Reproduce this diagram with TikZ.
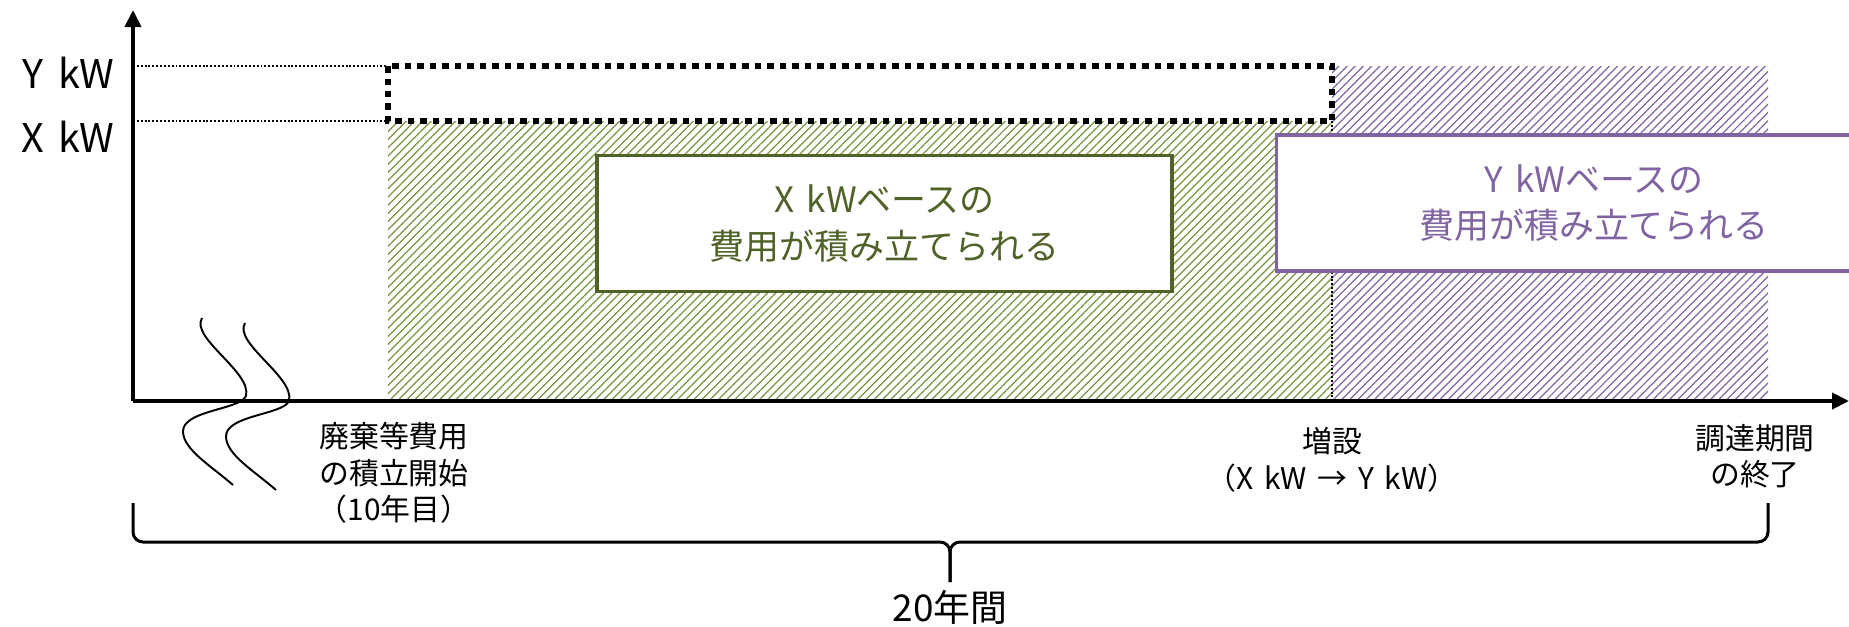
\documentclass[tikz,border=0pt]{standalone}
\usepackage{fontspec}
\setmainfont{Noto Sans CJK JP}[WordSpace=1.6]
\usetikzlibrary{arrows.meta, positioning, patterns.meta}
\definecolor{kwgreen}{RGB}{79, 98, 40}
\definecolor{hatchgreen}{RGB}{119, 147, 60}
\definecolor{kwpurple}{RGB}{128, 100, 162}
\tikzset{
  axisline/.style={line width=0.08cm, -{Triangle[width=0.32cm,length=0.34cm]}},
  guideline/.style={line width=1.1pt, dash pattern=on 1.1pt off 1.1pt},
  squaredots/.style={line width=0.13cm, dash pattern=on 0.13cm off 0.12cm},
  hatch/.style={pattern={Lines[angle=45, distance=3.3pt, line width=0.7pt]}, pattern color=#1},
  costbox/.style={draw=#1, text=#1, fill=white, line width=0.075cm, align=center,
    minimum height=2.72cm, font=\fontsize{19.9pt}{26.4pt}\selectfont},
  ticklabel/.style={align=center, inner sep=0pt, font=\fontsize{17pt}{20.8pt}\selectfont},
  kwlabel/.style={anchor=east, inner sep=0pt, font=\fontsize{22.5pt}{26pt}\selectfont}
}

\begin{document}
\begin{tikzpicture}[x=0.02cm, y=-0.02cm]
  \useasboundingbox (0,0) rectangle (1849,626);
  \clip (0,0) rectangle (1849,626);

  % key points
  \coordinate (O) at (133,401);
  \coordinate (ytip) at (133,10);
  \coordinate (xtip) at (1849,401);
  \coordinate (ylev) at (133,66);
  \coordinate (xlev) at (133,121);
  \coordinate (start) at (388,401);
  \coordinate (add) at (1332,401);
  \coordinate (fin) at (1768,401);

  % accumulated areas
  \fill[hatch=hatchgreen] (start |- xlev) rectangle (add);
  \fill[hatch=kwpurple] (add |- ylev) rectangle (fin);
  \draw[guideline] (add |- xlev) -- (add);
  \draw[squaredots] (start |- ylev) rectangle (add |- xlev);

  % levels
  \draw[guideline] (ylev) -- (start |- ylev);
  \draw[guideline] (xlev) -- (start |- xlev);
  \node[kwlabel] (ylbl) at (115,73) {Y kW};
  \node[kwlabel] (xlbl) at (115,137) {X kW};

  % axes
  \draw[axisline] (O) -- (ytip);
  \draw[axisline] (O) -- (xtip);

  % break marks
  \foreach \dx/\dy in {0/0, 43/5}{
    \begin{scope}[shift={(\dx,\dy)}]
      \draw[line width=1.1pt] (202,318) .. controls (190,338) and (252,372) .. (246,396)
        .. controls (240,410) and (182,410) .. (183,432)
        .. controls (184,450) and (210,465) .. (233,485);
    \end{scope}
  }

  % boxes
  \node[costbox=kwgreen, minimum width=11.5cm] (xbox) at (884.5,223.5)
    {X kWベースの\\費用が積み立てられる};
  \node[costbox=kwpurple, minimum width=12.7cm] (ybox) at (1594,203)
    {Y kWベースの\\費用が積み立てられる};

  % time points
  \node[ticklabel] (startlbl) at (394,473) {廃棄等費用\\の積立開始\\（10年目）};
  \node[ticklabel] (addlbl) at (1332,460) {増設\\（X kW → Y kW）};
  \node[ticklabel] (finlbl) at (1755,456) {調達期間\\の終了};

  % period
  \draw[line width=0.06cm, rounded corners=0.2cm] (133,503) -- (133,542) -- (950,542) -- (950,582);
  \draw[line width=0.06cm, rounded corners=0.2cm] (1768,503) -- (1768,542) -- (950,542) -- (950,582);
  \node[inner sep=0pt, font=\fontsize{21pt}{25pt}\selectfont] (periodlbl) at (950,607) {20年間};
\end{tikzpicture}
\end{document}
